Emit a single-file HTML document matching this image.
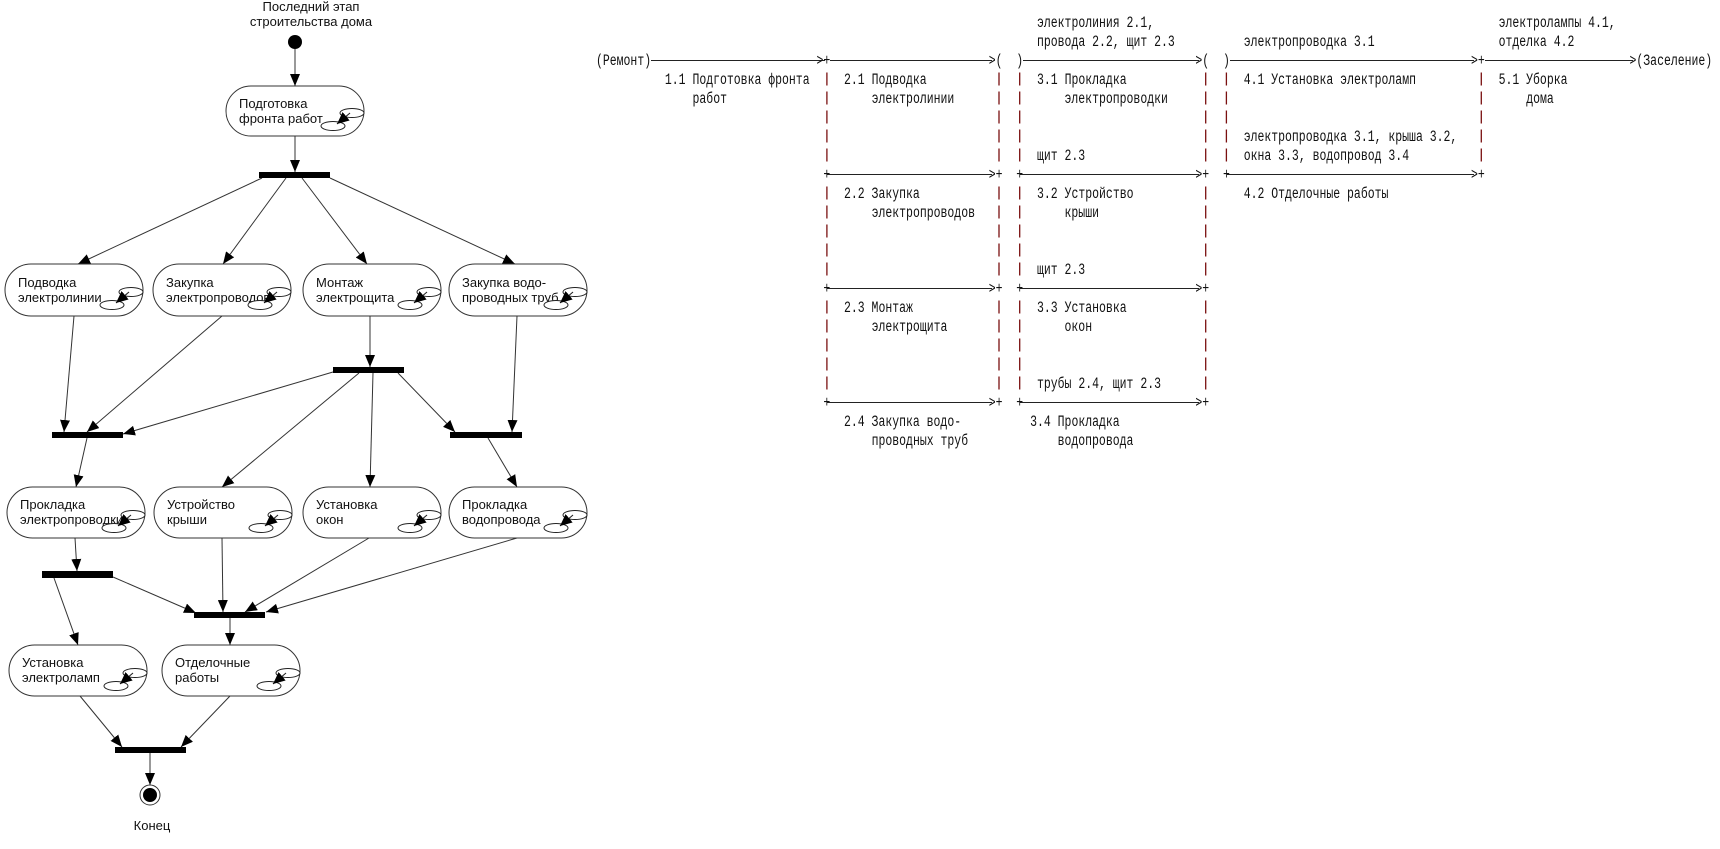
<!DOCTYPE html>
<html><head><meta charset="utf-8"><style>
html,body{margin:0;padding:0;background:#fff;}
svg{display:block}
.s{font-family:"Liberation Sans","Noto Sans CJK SC",sans-serif;font-size:13px;fill:#111}
.m{font-family:"Liberation Mono","DejaVu Sans Mono",monospace;font-size:15.5px;fill:#111}
.c{stroke:#333;stroke-width:1;fill:none}
.n{fill:#fff;stroke:#333;stroke-width:1}
.e{fill:#fff;stroke:#222;stroke-width:1}
.d{stroke:#222;stroke-width:1.1}
.b{stroke:#7a1010;stroke-width:1.3;stroke-dasharray:13 6}
</style></head><body>
<svg width="1720" height="849" viewBox="0 0 1720 849" xmlns="http://www.w3.org/2000/svg">
<defs>
<marker id="a" markerWidth="12" markerHeight="10" refX="12" refY="5" orient="auto" markerUnits="userSpaceOnUse"><path d="M0,0 L12,5 L0,10z" fill="#000"/></marker>
<marker id="i" markerWidth="12" markerHeight="11" refX="12" refY="5.5" orient="auto" markerUnits="userSpaceOnUse"><path d="M0,0 L12,5.5 L0,11z" fill="#000"/></marker>
</defs>

<text class="s" x="311" y="11" text-anchor="middle">Последний этап</text>
<text class="s" x="311" y="26" text-anchor="middle">строительства дома</text>
<circle cx="295" cy="42" r="7" fill="#000"/>
<line class="c" x1="295" y1="49" x2="295" y2="86" marker-end="url(#a)"/>

<line class="c" x1="295" y1="136" x2="295" y2="172" marker-end="url(#a)"/>
<line class="c" x1="262" y1="178" x2="78" y2="264" marker-end="url(#a)"/>
<line class="c" x1="286" y1="178" x2="223" y2="264" marker-end="url(#a)"/>
<line class="c" x1="302" y1="178" x2="367" y2="264" marker-end="url(#a)"/>
<line class="c" x1="330" y1="178" x2="515" y2="264" marker-end="url(#a)"/>
<line class="c" x1="370" y1="316" x2="370" y2="367" marker-end="url(#a)"/>
<line class="c" x1="74" y1="316" x2="64" y2="432" marker-end="url(#a)"/>
<line class="c" x1="222" y1="316" x2="87" y2="432" marker-end="url(#a)"/>
<line class="c" x1="333" y1="372" x2="123" y2="434" marker-end="url(#a)"/>
<line class="c" x1="517" y1="316" x2="512" y2="432" marker-end="url(#a)"/>
<line class="c" x1="398" y1="373" x2="455" y2="432" marker-end="url(#a)"/>
<line class="c" x1="359" y1="373" x2="222" y2="487" marker-end="url(#a)"/>
<line class="c" x1="373" y1="373" x2="370" y2="487" marker-end="url(#a)"/>
<line class="c" x1="87" y1="438" x2="76" y2="487" marker-end="url(#a)"/>
<line class="c" x1="488" y1="438" x2="517" y2="487" marker-end="url(#a)"/>
<line class="c" x1="75" y1="538" x2="77" y2="571" marker-end="url(#a)"/>
<line class="c" x1="113" y1="577" x2="196" y2="613" marker-end="url(#a)"/>
<line class="c" x1="222" y1="538" x2="223" y2="612" marker-end="url(#a)"/>
<line class="c" x1="369" y1="538" x2="245" y2="612" marker-end="url(#a)"/>
<line class="c" x1="517" y1="538" x2="266" y2="612" marker-end="url(#a)"/>
<line class="c" x1="54" y1="578" x2="78" y2="645" marker-end="url(#a)"/>
<line class="c" x1="230" y1="618" x2="230" y2="645" marker-end="url(#a)"/>
<line class="c" x1="80" y1="696" x2="122" y2="747" marker-end="url(#a)"/>
<line class="c" x1="230" y1="696" x2="181" y2="747" marker-end="url(#a)"/>
<line class="c" x1="150" y1="753" x2="150" y2="785" marker-end="url(#a)"/>

<rect x="259" y="172" width="71" height="6" fill="#000"/>
<rect x="333" y="367" width="71" height="6" fill="#000"/>
<rect x="52" y="432" width="71" height="6" fill="#000"/>
<rect x="450" y="432" width="72" height="6" fill="#000"/>
<rect x="42" y="571" width="71" height="7" fill="#000"/>
<rect x="194" y="612" width="71" height="6" fill="#000"/>
<rect x="115" y="747" width="71" height="6" fill="#000"/>

<circle cx="150" cy="795" r="10" fill="#fff" stroke="#333"/>
<circle cx="150" cy="795" r="7" fill="#000"/>
<text class="s" x="152" y="830" text-anchor="middle">Конец</text>

<g>
<rect class="n" x="226" y="86" width="138" height="50" rx="25"/>
<text class="s" x="239" y="108">Подготовка</text><text class="s" x="239" y="123">фронта работ</text>
<ellipse class="e" cx="352" cy="113" rx="12" ry="4.5"/><ellipse class="e" cx="333" cy="126" rx="12" ry="4.5"/>
<line class="d" x1="350" y1="113" x2="337" y2="124" marker-end="url(#i)"/>
</g>
<g>
<rect class="n" x="5" y="264" width="138" height="52" rx="26"/>
<text class="s" x="18" y="287">Подводка</text><text class="s" x="18" y="302">электролинии</text>
<ellipse class="e" cx="131" cy="292" rx="12" ry="4.5"/><ellipse class="e" cx="112" cy="305" rx="12" ry="4.5"/>
<line class="d" x1="129" y1="292" x2="116" y2="303" marker-end="url(#i)"/>
</g>
<g>
<rect class="n" x="153" y="264" width="138" height="52" rx="26"/>
<text class="s" x="166" y="287">Закупка</text><text class="s" x="166" y="302">электропроводов</text>
<ellipse class="e" cx="279" cy="292" rx="12" ry="4.5"/><ellipse class="e" cx="260" cy="305" rx="12" ry="4.5"/>
<line class="d" x1="277" y1="292" x2="264" y2="303" marker-end="url(#i)"/>
</g>
<g>
<rect class="n" x="303" y="264" width="138" height="52" rx="26"/>
<text class="s" x="316" y="287">Монтаж</text><text class="s" x="316" y="302">электрощита</text>
<ellipse class="e" cx="429" cy="292" rx="12" ry="4.5"/><ellipse class="e" cx="410" cy="305" rx="12" ry="4.5"/>
<line class="d" x1="427" y1="292" x2="414" y2="303" marker-end="url(#i)"/>
</g>
<g>
<rect class="n" x="449" y="264" width="138" height="52" rx="26"/>
<text class="s" x="462" y="287">Закупка водо-</text><text class="s" x="462" y="302">проводных труб</text>
<ellipse class="e" cx="575" cy="292" rx="12" ry="4.5"/><ellipse class="e" cx="556" cy="305" rx="12" ry="4.5"/>
<line class="d" x1="573" y1="292" x2="560" y2="303" marker-end="url(#i)"/>
</g>

<g>
<rect class="n" x="7" y="487" width="138" height="51" rx="25.5"/>
<text class="s" x="20" y="509">Прокладка</text><text class="s" x="20" y="524">электропроводки</text>
<ellipse class="e" cx="133" cy="515" rx="12" ry="4.5"/><ellipse class="e" cx="114" cy="528" rx="12" ry="4.5"/>
<line class="d" x1="131" y1="515" x2="118" y2="526" marker-end="url(#i)"/>
</g>
<g>
<rect class="n" x="154" y="487" width="138" height="51" rx="25.5"/>
<text class="s" x="167" y="509">Устройство</text><text class="s" x="167" y="524">крыши</text>
<ellipse class="e" cx="280" cy="515" rx="12" ry="4.5"/><ellipse class="e" cx="261" cy="528" rx="12" ry="4.5"/>
<line class="d" x1="278" y1="515" x2="265" y2="526" marker-end="url(#i)"/>
</g>
<g>
<rect class="n" x="303" y="487" width="138" height="51" rx="25.5"/>
<text class="s" x="316" y="509">Установка</text><text class="s" x="316" y="524">окон</text>
<ellipse class="e" cx="429" cy="515" rx="12" ry="4.5"/><ellipse class="e" cx="410" cy="528" rx="12" ry="4.5"/>
<line class="d" x1="427" y1="515" x2="414" y2="526" marker-end="url(#i)"/>
</g>
<g>
<rect class="n" x="449" y="487" width="138" height="51" rx="25.5"/>
<text class="s" x="462" y="509">Прокладка</text><text class="s" x="462" y="524">водопровода</text>
<ellipse class="e" cx="575" cy="515" rx="12" ry="4.5"/><ellipse class="e" cx="556" cy="528" rx="12" ry="4.5"/>
<line class="d" x1="573" y1="515" x2="560" y2="526" marker-end="url(#i)"/>
</g>

<g>
<rect class="n" x="9" y="645" width="138" height="51" rx="25.5"/>
<text class="s" x="22" y="667">Установка</text><text class="s" x="22" y="682">электроламп</text>
<ellipse class="e" cx="135" cy="673" rx="12" ry="4.5"/><ellipse class="e" cx="116" cy="686" rx="12" ry="4.5"/>
<line class="d" x1="133" y1="673" x2="120" y2="684" marker-end="url(#i)"/>
</g>
<g>
<rect class="n" x="162" y="645" width="138" height="51" rx="25.5"/>
<text class="s" x="175" y="667">Отделочные</text><text class="s" x="175" y="682">работы</text>
<ellipse class="e" cx="288" cy="673" rx="12" ry="4.5"/><ellipse class="e" cx="269" cy="686" rx="12" ry="4.5"/>
<line class="d" x1="286" y1="673" x2="273" y2="684" marker-end="url(#i)"/>
</g>

<g stroke="#222" stroke-width="1">
<line x1="651" y1="60.5" x2="825" y2="60.5"/>
<line x1="830" y1="60.5" x2="992" y2="60.5"/>
<line x1="1023" y1="60.5" x2="1199" y2="60.5"/>
<line x1="1230" y1="60.5" x2="1474" y2="60.5"/>
<line x1="1485" y1="60.5" x2="1633" y2="60.5"/>
<line x1="827" y1="174.5" x2="992" y2="174.5"/>
<line x1="1020" y1="174.5" x2="1199" y2="174.5"/>
<line x1="1227" y1="174.5" x2="1474" y2="174.5"/>
<line x1="827" y1="288.5" x2="992" y2="288.5"/>
<line x1="1020" y1="288.5" x2="1199" y2="288.5"/>
<line x1="827" y1="402.5" x2="992" y2="402.5"/>
<line x1="1020" y1="402.5" x2="1199" y2="402.5"/>
</g>

<g>
<line class="b" x1="826.9" y1="72.5" x2="826.9" y2="162"/>
<line class="b" x1="999" y1="72.5" x2="999" y2="162"/>
<line class="b" x1="1019.7" y1="72.5" x2="1019.7" y2="162"/>
<line class="b" x1="1205.7" y1="72.5" x2="1205.7" y2="162"/>
<line class="b" x1="1226.4" y1="72.5" x2="1226.4" y2="162"/>
<line class="b" x1="1481.3" y1="72.5" x2="1481.3" y2="162"/>
<line class="b" x1="826.9" y1="186.5" x2="826.9" y2="276"/>
<line class="b" x1="999" y1="186.5" x2="999" y2="276"/>
<line class="b" x1="1019.7" y1="186.5" x2="1019.7" y2="276"/>
<line class="b" x1="1205.7" y1="186.5" x2="1205.7" y2="276"/>
<line class="b" x1="826.9" y1="300.5" x2="826.9" y2="390"/>
<line class="b" x1="999" y1="300.5" x2="999" y2="390"/>
<line class="b" x1="1019.7" y1="300.5" x2="1019.7" y2="390"/>
<line class="b" x1="1205.7" y1="300.5" x2="1205.7" y2="390"/>
</g>

<g>
<text class="m" x="596" y="65" textLength="55.1" lengthAdjust="spacingAndGlyphs">(Ремонт)</text>
<text class="m" x="816.5" y="65" textLength="13.8" lengthAdjust="spacingAndGlyphs">&gt;+</text>
<text class="m" x="988.7" y="65" textLength="13.8" lengthAdjust="spacingAndGlyphs">&gt;(</text>
<text class="m" x="1016.3" y="65" textLength="6.9" lengthAdjust="spacingAndGlyphs">)</text>
<text class="m" x="1195.4" y="65" textLength="13.8" lengthAdjust="spacingAndGlyphs">&gt;(</text>
<text class="m" x="1223" y="65" textLength="6.9" lengthAdjust="spacingAndGlyphs">)</text>
<text class="m" x="1471" y="65" textLength="13.8" lengthAdjust="spacingAndGlyphs">&gt;+</text>
<text class="m" x="1629.5" y="65" textLength="82.7" lengthAdjust="spacingAndGlyphs">&gt;(Заселение)</text>

<text class="m" x="823.4" y="179" textLength="6.9" lengthAdjust="spacingAndGlyphs">+</text>
<text class="m" x="988.7" y="179" textLength="13.8" lengthAdjust="spacingAndGlyphs">&gt;+</text>
<text class="m" x="1016.3" y="179" textLength="6.9" lengthAdjust="spacingAndGlyphs">+</text>
<text class="m" x="1195.4" y="179" textLength="13.8" lengthAdjust="spacingAndGlyphs">&gt;+</text>
<text class="m" x="1223" y="179" textLength="6.9" lengthAdjust="spacingAndGlyphs">+</text>
<text class="m" x="1471" y="179" textLength="13.8" lengthAdjust="spacingAndGlyphs">&gt;+</text>

<text class="m" x="823.4" y="293" textLength="6.9" lengthAdjust="spacingAndGlyphs">+</text>
<text class="m" x="988.7" y="293" textLength="13.8" lengthAdjust="spacingAndGlyphs">&gt;+</text>
<text class="m" x="1016.3" y="293" textLength="6.9" lengthAdjust="spacingAndGlyphs">+</text>
<text class="m" x="1195.4" y="293" textLength="13.8" lengthAdjust="spacingAndGlyphs">&gt;+</text>

<text class="m" x="823.4" y="407" textLength="6.9" lengthAdjust="spacingAndGlyphs">+</text>
<text class="m" x="988.7" y="407" textLength="13.8" lengthAdjust="spacingAndGlyphs">&gt;+</text>
<text class="m" x="1016.3" y="407" textLength="6.9" lengthAdjust="spacingAndGlyphs">+</text>
<text class="m" x="1195.4" y="407" textLength="13.8" lengthAdjust="spacingAndGlyphs">&gt;+</text>

<text class="m" x="1037" y="27" textLength="117.1" lengthAdjust="spacingAndGlyphs">электролиния 2.1,</text>
<text class="m" x="1498.6" y="27" textLength="117.1" lengthAdjust="spacingAndGlyphs">электролампы 4.1,</text>
<text class="m" x="1037" y="46" textLength="137.8" lengthAdjust="spacingAndGlyphs">провода 2.2, щит 2.3</text>
<text class="m" x="1243.7" y="46" textLength="130.9" lengthAdjust="spacingAndGlyphs">электропроводка 3.1</text>
<text class="m" x="1498.6" y="46" textLength="75.8" lengthAdjust="spacingAndGlyphs">отделка 4.2</text>

<text class="m" x="664.9" y="84" textLength="144.7" lengthAdjust="spacingAndGlyphs">1.1 Подготовка фронта</text>
<text class="m" x="844" y="84" textLength="82.7" lengthAdjust="spacingAndGlyphs">2.1 Подводка</text>
<text class="m" x="1037" y="84" textLength="89.6" lengthAdjust="spacingAndGlyphs">3.1 Прокладка</text>
<text class="m" x="1243.7" y="84" textLength="172.3" lengthAdjust="spacingAndGlyphs">4.1 Установка электроламп</text>
<text class="m" x="1498.6" y="84" textLength="68.9" lengthAdjust="spacingAndGlyphs">5.1 Уборка</text>

<text class="m" x="692.5" y="103" textLength="34.5" lengthAdjust="spacingAndGlyphs">работ</text>
<text class="m" x="871.6" y="103" textLength="82.7" lengthAdjust="spacingAndGlyphs">электролинии</text>
<text class="m" x="1064.5" y="103" textLength="103.4" lengthAdjust="spacingAndGlyphs">электропроводки</text>
<text class="m" x="1526.2" y="103" textLength="27.6" lengthAdjust="spacingAndGlyphs">дома</text>

<text class="m" x="1243.7" y="141" textLength="213.6" lengthAdjust="spacingAndGlyphs">электропроводка 3.1, крыша 3.2,</text>
<text class="m" x="1037" y="160" textLength="48.2" lengthAdjust="spacingAndGlyphs">щит 2.3</text>
<text class="m" x="1243.7" y="160" textLength="165.4" lengthAdjust="spacingAndGlyphs">окна 3.3, водопровод 3.4</text>

<text class="m" x="844" y="198" textLength="75.8" lengthAdjust="spacingAndGlyphs">2.2 Закупка</text>
<text class="m" x="1037" y="198" textLength="96.5" lengthAdjust="spacingAndGlyphs">3.2 Устройство</text>
<text class="m" x="1243.7" y="198" textLength="144.7" lengthAdjust="spacingAndGlyphs">4.2 Отделочные работы</text>
<text class="m" x="871.6" y="217" textLength="103.4" lengthAdjust="spacingAndGlyphs">электропроводов</text>
<text class="m" x="1064.5" y="217" textLength="34.5" lengthAdjust="spacingAndGlyphs">крыши</text>
<text class="m" x="1037" y="274" textLength="48.2" lengthAdjust="spacingAndGlyphs">щит 2.3</text>

<text class="m" x="844" y="312" textLength="68.9" lengthAdjust="spacingAndGlyphs">2.3 Монтаж</text>
<text class="m" x="1037" y="312" textLength="89.6" lengthAdjust="spacingAndGlyphs">3.3 Установка</text>
<text class="m" x="871.6" y="331" textLength="75.8" lengthAdjust="spacingAndGlyphs">электрощита</text>
<text class="m" x="1064.5" y="331" textLength="27.6" lengthAdjust="spacingAndGlyphs">окон</text>
<text class="m" x="1037" y="388" textLength="124" lengthAdjust="spacingAndGlyphs">трубы 2.4, щит 2.3</text>

<text class="m" x="844" y="426" textLength="117.1" lengthAdjust="spacingAndGlyphs">2.4 Закупка водо-</text>
<text class="m" x="1030.1" y="426" textLength="89.6" lengthAdjust="spacingAndGlyphs">3.4 Прокладка</text>
<text class="m" x="871.6" y="445" textLength="96.5" lengthAdjust="spacingAndGlyphs">проводных труб</text>
<text class="m" x="1057.6" y="445" textLength="75.8" lengthAdjust="spacingAndGlyphs">водопровода</text>
</g>
</svg>
</body></html>
